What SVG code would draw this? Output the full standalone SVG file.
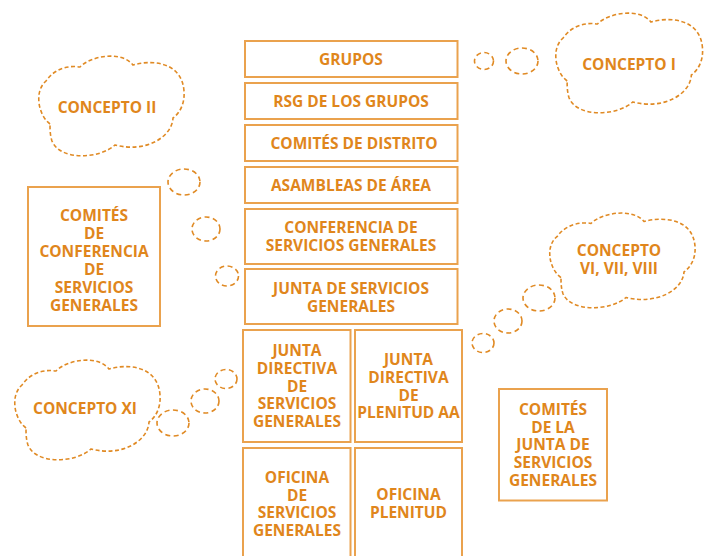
<svg xmlns="http://www.w3.org/2000/svg" xmlns:xlink="http://www.w3.org/1999/xlink" width="709" height="556" viewBox="0 0 709 556">
<style>
.box{fill:#fff;stroke:#EAA24E;stroke-width:2}
.t{font-family:"Open Sans","Liberation Sans",sans-serif;font-weight:700;font-size:15.5px;fill:#E0861C;text-anchor:middle}
.cloud{fill:#fff;stroke:#E08A24;stroke-width:1.6;stroke-dasharray:4 2.5}
.bub{fill:none;stroke:#E08A24;stroke-width:1.6;stroke-dasharray:5 3.5}
</style>
<defs>
<path id="cl" d="M 14 69 C 2 60, -2 36, 10 26 C 18 14, 32 10, 44 12 C 56 0, 86 -4, 97 10 C 118 4, 146 8, 148 36 C 149 48, 144 58, 137 63 C 136 82, 110 98, 79 90 C 64 104, 24 106, 16 86 C 14 80, 14 74, 14 69 Z"/>
</defs>
<rect width="709" height="556" fill="#fff"/>
<g id="connectors">
<ellipse class="bub" cx="484" cy="61" rx="9.5" ry="8.5"/>
<ellipse class="bub" cx="522" cy="61" rx="16" ry="13"/>
<ellipse class="bub" cx="184" cy="182" rx="16" ry="13"/>
<ellipse class="bub" cx="206" cy="229" rx="14" ry="12"/>
<ellipse class="bub" cx="227" cy="276" rx="11.5" ry="10"/>
<ellipse class="bub" cx="539" cy="298" rx="16" ry="13"/>
<ellipse class="bub" cx="508" cy="321" rx="14" ry="12"/>
<ellipse class="bub" cx="483" cy="343" rx="11" ry="9.5"/>
<ellipse class="bub" cx="173" cy="423" rx="16" ry="13"/>
<ellipse class="bub" cx="205" cy="401" rx="14" ry="12"/>
<ellipse class="bub" cx="226" cy="379" rx="11" ry="9.5"/>
</g>
<g id="concepto-i"><use xlink:href="#cl" href="#cl" class="cloud" transform="translate(553,12) scale(1.01,1)"/><text class="t" x="629" y="69.5">CONCEPTO I</text></g>
<g id="concepto-ii"><use xlink:href="#cl" href="#cl" class="cloud" transform="translate(36,55)"/><text class="t" x="107" y="112.5">CONCEPTO II</text></g>
<g id="concepto-vi"><use xlink:href="#cl" href="#cl" class="cloud" transform="translate(547,212) scale(1,0.95)"/><text class="t" x="619" y="255.5">CONCEPTO</text><text class="t" x="619" y="273.5">VI, VII, VIII</text></g>
<g id="concepto-xi"><use xlink:href="#cl" href="#cl" class="cloud" transform="translate(12,359)"/><text class="t" x="85" y="413.5">CONCEPTO XI</text></g>
<g id="grupos"><rect class="box" x="245" y="41" width="212.5" height="36"/><text class="t" x="351" y="65">GRUPOS</text></g>
<g id="rsg"><rect class="box" x="245" y="83" width="212.5" height="36"/><text class="t" x="351" y="107">RSG DE LOS GRUPOS</text></g>
<g id="comites-distrito"><rect class="box" x="245" y="125" width="212.5" height="36"/><text class="t" x="354" y="149">COMITÉS DE DISTRITO</text></g>
<g id="asambleas"><rect class="box" x="245" y="167" width="212.5" height="36"/><text class="t" x="351" y="191">ASAMBLEAS DE ÁREA</text></g>
<g id="conferencia"><rect class="box" x="245" y="209" width="212.5" height="55"/><text class="t" x="351" y="232.5">CONFERENCIA DE</text><text class="t" x="351" y="250.5">SERVICIOS GENERALES</text></g>
<g id="junta-sg"><rect class="box" x="245" y="269" width="212.5" height="55"/><text class="t" x="351" y="293.5">JUNTA DE SERVICIOS</text><text class="t" x="351" y="311.5">GENERALES</text></g>
<g id="jd-sg"><rect class="box" x="243" y="330" width="107.5" height="112"/><text class="t" x="297" y="355.5">JUNTA</text><text class="t" x="297" y="373.5">DIRECTIVA</text><text class="t" x="297" y="391.5">DE</text><text class="t" x="297" y="409">SERVICIOS</text><text class="t" x="297" y="426.5">GENERALES</text></g>
<g id="jd-plenitud"><rect class="box" x="355" y="330" width="107" height="112"/><text class="t" x="408.5" y="364.5">JUNTA</text><text class="t" x="408.5" y="382.5">DIRECTIVA</text><text class="t" x="408.5" y="400.5">DE</text><text class="t" x="408.5" y="418">PLENITUD AA</text></g>
<g id="oficina-sg"><rect class="box" x="243" y="448" width="107.5" height="112"/><text class="t" x="297" y="482.5">OFICINA</text><text class="t" x="297" y="500.5">DE</text><text class="t" x="297" y="518">SERVICIOS</text><text class="t" x="297" y="535.5">GENERALES</text></g>
<g id="oficina-plenitud"><rect class="box" x="355" y="448" width="107" height="112"/><text class="t" x="408.5" y="500">OFICINA</text><text class="t" x="408.5" y="517.5">PLENITUD</text></g>
<g id="comites-conferencia"><rect class="box" x="28" y="187" width="132" height="139"/><text class="t" x="94" y="220.5">COMITÉS</text><text class="t" x="94" y="238.5">DE</text><text class="t" x="94" y="256.5">CONFERENCIA</text><text class="t" x="94" y="274.5">DE</text><text class="t" x="94" y="292.5">SERVICIOS</text><text class="t" x="94" y="310.5">GENERALES</text></g>
<g id="comites-junta"><rect class="box" x="499" y="389" width="108" height="111.5"/><text class="t" x="553" y="414.5">COMITÉS</text><text class="t" x="553" y="432.5">DE LA</text><text class="t" x="553" y="450">JUNTA DE</text><text class="t" x="553" y="467.5">SERVICIOS</text><text class="t" x="553" y="485.5">GENERALES</text></g>
</svg>
